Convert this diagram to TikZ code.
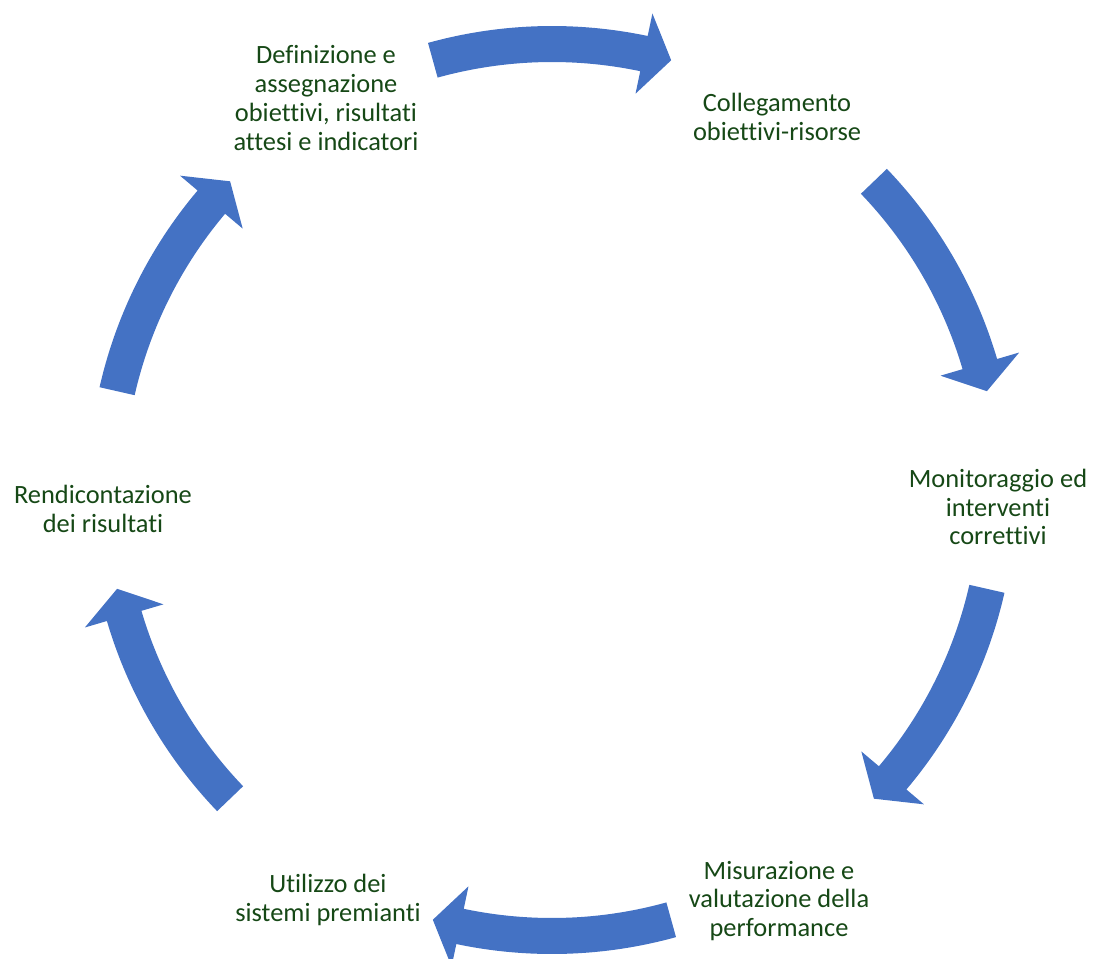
\documentclass[tikz,border=0pt]{standalone}
\usepackage{fontspec}
\setmainfont{Carlito}[Ligatures={NoCommon}]
\usetikzlibrary{calc}

\definecolor{cycleblue}{RGB}{68,114,196}
\definecolor{stagegreen}{RGB}{22,72,22}

\begin{document}
\begin{tikzpicture}[
  x=1pt, y=1pt,
  stage/.style={
    align=center,
    inner sep=0pt,
    text=stagegreen,
    font=\fontsize{26.4}{28.8}\selectfont
  },
  cyclearrow/.style={
    fill=cycleblue,
    draw=none
  }
]
\useasboundingbox (0,-959) rectangle (1093,0);

% centre of the cycle
\coordinate (hub) at (552,-490);

% Stages, clockwise from the top left
\node[stage] (def) at (326,-98) {Definizione e \\ assegnazione \\ obiettivi, risultati \\ attesi e indicatori};
\node[stage] (link) at (777,-117) {Collegamento \\ obiettivi-risorse};
\node[stage] (mon) at (998,-507) {Monitoraggio ed \\ interventi \\ correttivi};
\node[stage] (meas) at (779,-901) {Misurazione e \\ valutazione della \\ performance};
\node[stage] (rew) at (328,-900) {Utilizzo dei \\ sistemi premianti};
\node[stage] (rep) at (103,-509) {Rendicontazione \\ dei risultati};

% Curved arrows between the stages
\foreach \m in {90, 28.3, -28.3, -90, -151.7, 151.7} {
  \fill[cyclearrow] ($(hub)+(\m+15.5:464)$)
    arc[start angle=\m+15.5, end angle=\m-11.9, radius=464]
    -- ($(hub)+(\m-11.9:487)$)
    -- ($(hub)+(\m-15.5:446)$)
    -- ($(hub)+(\m-11.9:405)$)
    -- ($(hub)+(\m-11.9:428)$)
    arc[start angle=\m-11.9, end angle=\m+15.5, radius=428]
    -- cycle;
}

\end{tikzpicture}
\end{document}
